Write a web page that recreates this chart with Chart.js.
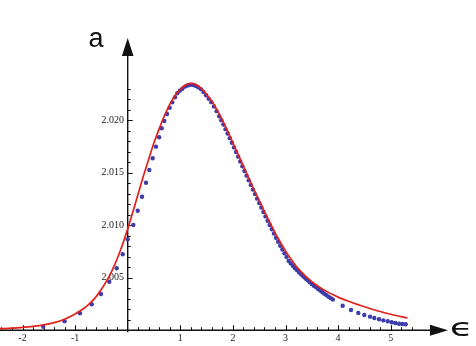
<!DOCTYPE html>
<html>
<head>
<meta charset="utf-8">
<script src="https://cdn.jsdelivr.net/npm/chart.js@4/dist/chart.umd.min.js"></script>
<style>
  html, body { margin: 0; padding: 0; background: #fff; }
  #wrap { width: 476px; height: 346px; position: relative; }
</style>
</head>
<body>
<div id="wrap"><canvas id="c"></canvas></div>
<script>
// Fitted curve (red) and simulated points (blue), a vs epsilon.

const redEps = [-2.43, -2.2, -2.0, -1.8, -1.6, -1.4, -1.2, -1.0, -0.9, -0.8, -0.7, -0.6, -0.5, -0.4, -0.3,
  -0.2, -0.1, 0, 0.1, 0.2, 0.3, 0.4, 0.5, 0.6, 0.7, 0.8, 0.9, 1.0, 1.1, 1.2, 1.3, 1.4, 1.5, 1.6, 1.7, 1.8,
  1.9, 2.0, 2.1, 2.2, 2.3, 2.4, 2.5, 2.6, 2.7, 2.8, 2.9, 3.0, 3.1, 3.2, 3.3, 3.4, 3.5, 3.6, 3.7, 3.8, 3.9,
  4.0, 4.2, 4.4, 4.6, 4.8, 5.0, 5.2, 5.32];
const redA = [2.00014, 2.00019, 2.00026, 2.00036, 2.0005, 2.00072, 2.00105, 2.00155, 2.00185, 2.0022,
  2.00265, 2.0032, 2.0039, 2.00469, 2.00566, 2.00681, 2.00814, 2.00965, 2.0113, 2.013, 2.0147, 2.0163,
  2.01785, 2.0192, 2.02045, 2.0215, 2.02235, 2.02295, 2.02335, 2.0235, 2.02338, 2.02303, 2.02245, 2.0218,
  2.02095, 2.02, 2.01895, 2.01785, 2.01675, 2.0156, 2.0145, 2.0134, 2.01235, 2.0113, 2.0103, 2.0093,
  2.0084, 2.00755, 2.0068, 2.00612, 2.00555, 2.00505, 2.00462, 2.00425, 2.00393, 2.00365, 2.00339,
  2.00315, 2.00275, 2.0024, 2.00207, 2.00178, 2.00152, 2.00129, 2.00116];

// rising branch, sparse
const blueRiseEps = [-1.605, -1.2, -0.907, -0.684, -0.508, -0.35, -0.209, -0.095, 0.0, 0.107, 0.19, 0.272,
  0.348, 0.411, 0.475, 0.538, 0.597, 0.646, 0.696, 0.747, 0.798, 0.848, 0.899, 0.943];
const blueRiseA = [2.00033, 2.00086, 2.00161, 2.00247, 2.00345, 2.00462, 2.0059, 2.00723, 2.00866, 2.01002,
  2.01138, 2.01271, 2.01405, 2.01526, 2.01637, 2.01748, 2.01837, 2.01923, 2.01992, 2.02059, 2.02119,
  2.0217, 2.02218, 2.02256];

// peak and falling branch, dense
const blueFallEps = [0.99, 1.04, 1.09, 1.14, 1.19, 1.24, 1.29, 1.34, 1.39, 1.44, 1.49, 1.54, 1.59, 1.64, 1.69,
  1.74, 1.78, 1.82, 1.86, 1.90, 1.94, 1.98, 2.02, 2.06, 2.10, 2.14, 2.18, 2.22, 2.26, 2.30, 2.34, 2.38,
  2.42, 2.46, 2.50, 2.54, 2.58, 2.62, 2.66, 2.70, 2.74, 2.78, 2.82, 2.86, 2.90, 2.94, 2.98, 3.02, 3.06,
  3.10, 3.14, 3.18, 3.22, 3.26, 3.30, 3.34, 3.38, 3.42, 3.46, 3.50, 3.54, 3.58, 3.62, 3.66, 3.70, 3.74,
  3.78, 3.82, 3.86, 3.90];
const blueFallA = [2.0228, 2.023, 2.0232, 2.0233, 2.02338, 2.02335, 2.02328, 2.02313, 2.02296, 2.02268,
  2.02238, 2.02205, 2.02172, 2.0213, 2.02086, 2.02038, 2.02, 2.01958, 2.01915, 2.01873, 2.01829, 2.01785,
  2.01741, 2.01697, 2.01653, 2.01607, 2.01561, 2.01516, 2.01472, 2.01428, 2.01384, 2.01339, 2.01296,
  2.01253, 2.01211, 2.01168, 2.01126, 2.01084, 2.01043, 2.01002, 2.00961, 2.0092, 2.0088, 2.00842,
  2.00804, 2.00768, 2.00732, 2.00698, 2.0066, 2.00636, 2.00613, 2.00591, 2.0057, 2.0055, 2.0053,
  2.00511, 2.00493, 2.00475, 2.00457, 2.0044, 2.00424, 2.00408, 2.00392, 2.00377, 2.00362, 2.00347,
  2.00333, 2.00319, 2.00305, 2.00292];

// tail, sparse
const blueTailEps = [4.087, 4.245, 4.384, 4.498, 4.606, 4.688, 4.778, 4.859, 4.943, 5.019, 5.087, 5.158,
  5.221, 5.285];
const blueTailA = [2.00233, 2.00192, 2.00164, 2.00145, 2.00129, 2.00116, 2.00104, 2.00094, 2.00085,
  2.00075, 2.00069, 2.00062, 2.00059, 2.00056];

const xLabels = [-2, -1, 1, 2, 3, 4, 5];
const yLabels = [2.005, 2.010, 2.015, 2.020];

// view window (chart area = whole canvas)
const X_MIN = -2.4278, X_MAX = 6.6217;
const Y_MIN = 1.998495, Y_MAX = 2.031448;
const Y_BASE = 2.0;

const BLUE = '#3c3cab';
const RED = '#e3201b';
const INK = '#111';

const pts = (xs, ys) => xs.map((x, i) => ({ x, y: ys[i] }));
const bluePts = pts(blueRiseEps, blueRiseA)
  .concat(pts(blueFallEps, blueFallA))
  .concat(pts(blueTailEps, blueTailA));

function zeroSize(scale) {
  if (scale.isHorizontal()) scale.height = 0; else scale.width = 0;
  scale.paddingTop = scale.paddingBottom = scale.paddingLeft = scale.paddingRight = 0;
}

const isInt = v => Math.abs(v - Math.round(v)) < 1e-6;
const isMajorA = v => Math.abs(v * 200 - Math.round(v * 200)) < 1e-6;

const axesPlugin = {
  id: 'axesPlugin',
  beforeDatasetsDraw(chart) {
    const { ctx, scales: { x, y } } = chart;
    const y0 = y.getPixelForValue(Y_BASE);
    const x0 = x.getPixelForValue(0);
    ctx.save();
    ctx.strokeStyle = INK;
    ctx.fillStyle = INK;
    ctx.lineWidth = 1.4;

    // x axis + arrow
    ctx.beginPath();
    ctx.moveTo(0, y0);
    ctx.lineTo(434, y0);
    ctx.stroke();
    ctx.beginPath();
    ctx.moveTo(430, y0 - 5.5);
    ctx.lineTo(448, y0);
    ctx.lineTo(430, y0 + 5.5);
    ctx.closePath();
    ctx.fill();

    // y axis + arrow
    ctx.beginPath();
    ctx.moveTo(x0, y0 + 2);
    ctx.lineTo(x0, 52);
    ctx.stroke();
    ctx.beginPath();
    ctx.moveTo(x0 - 5.8, 56);
    ctx.lineTo(x0, 38);
    ctx.lineTo(x0 + 5.8, 56);
    ctx.closePath();
    ctx.fill();

    // tick marks
    ctx.lineWidth = 1;
    ctx.beginPath();
    x.ticks.forEach(t => {
      const px = Math.round(x.getPixelForValue(t.value)) + 0.5;
      const len = isInt(t.value) ? 5 : 3;
      ctx.moveTo(px, y0);
      ctx.lineTo(px, y0 - len);
    });
    y.ticks.forEach(t => {
      const py = Math.round(y.getPixelForValue(t.value)) + 0.5;
      const len = isMajorA(t.value) ? 5 : 3;
      ctx.moveTo(x0, py);
      ctx.lineTo(x0 + len, py);
    });
    ctx.stroke();

    // axis names
    ctx.textAlign = 'center';
    ctx.textBaseline = 'middle';
    ctx.font = '27px "Liberation Sans", Arial, sans-serif';
    ctx.fillText('a', 96, 40);
    ctx.font = '24px "DejaVu Sans", sans-serif';
    ctx.translate(461.5, 330);
    ctx.scale(1.6, 1);
    ctx.fillText('ϵ', 0, 0);
    ctx.restore();
  }
};

new Chart(document.getElementById('c'), {
  type: 'scatter',
  data: {
    datasets: [
      {
        label: 'fit',
        data: pts(redEps, redA),
        showLine: true,
        borderColor: RED,
        borderWidth: 1.7,
        pointRadius: 0,
        cubicInterpolationMode: 'monotone',
      },
      {
        label: 'simulation',
        data: bluePts,
        backgroundColor: BLUE,
        borderWidth: 0,
        pointRadius: 2.2,
      }
    ]
  },
  options: {
    responsive: true,
    maintainAspectRatio: false,
    animation: false,
    layout: { padding: 0, autoPadding: false },
    plugins: { legend: { display: false }, tooltip: { enabled: false } },
    scales: {
      x: {
        type: 'linear',
        min: X_MIN,
        max: X_MAX,
        position: { y: Y_BASE },
        grid: { display: false, drawTicks: false },
        border: { display: false },
        afterFit: zeroSize,
        afterBuildTicks(scale) {
          const t = [];
          for (let i = -12; i <= 27; i++) if (i !== 0) t.push({ value: i / 5 });
          scale.ticks = t;
        },
        ticks: {
          autoSkip: false,
          maxRotation: 0,
          minRotation: 0,
          padding: 2,
          color: '#222',
          font: { family: '"Liberation Serif", "Times New Roman", serif', size: 10 },
          callback: v => (isInt(v) && xLabels.includes(Math.round(v))) ? String(Math.round(v)) : ''
        }
      },
      y: {
        type: 'linear',
        min: Y_MIN,
        max: Y_MAX,
        // labels sit right-aligned on this x; nudge left of the drawn axis
        position: { x: -0.07 },
        grid: { display: false, drawTicks: false },
        border: { display: false },
        afterFit: zeroSize,
        afterBuildTicks(scale) {
          const t = [];
          for (let i = 1; i <= 23; i++) t.push({ value: Y_BASE + i / 1000 });
          scale.ticks = t;
        },
        ticks: {
          autoSkip: false,
          color: '#222',
          font: { family: '"Liberation Serif", "Times New Roman", serif', size: 10 },
          callback: v => yLabels.some(l => Math.abs(l - v) < 1e-7) ? v.toFixed(3) : ''
        }
      }
    }
  },
  plugins: [axesPlugin]
});
</script>
</body>
</html>
